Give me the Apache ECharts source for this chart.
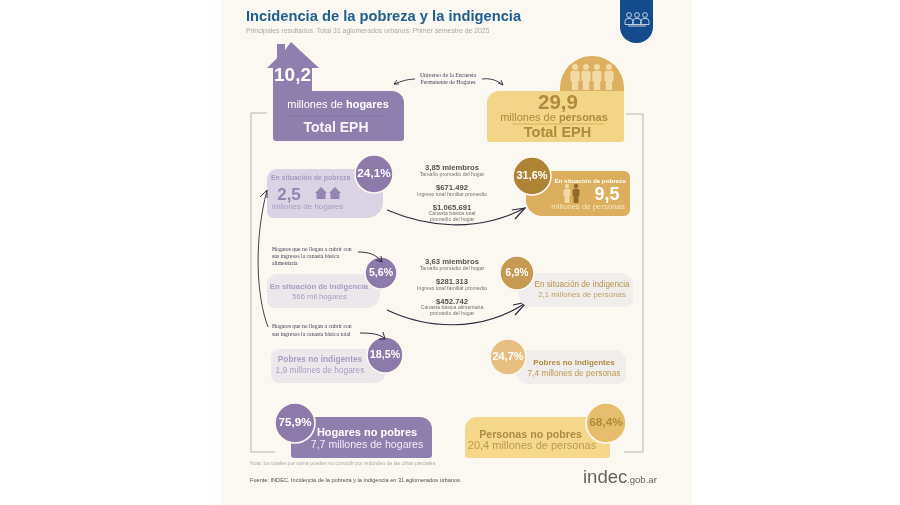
<!DOCTYPE html>
<html>
<head>
<meta charset="utf-8">
<style>html,body{margin:0;padding:0;background:#fff}#chart{width:900px;height:505px}</style>
<script src="https://cdn.jsdelivr.net/npm/echarts@6/dist/echarts.min.js"></script>
</head>
<body>
<div id="chart"></div>
<script>
const titulo = "Incidencia de la pobreza y la indigencia"
const subtitulo = "Principales resultados. Total 31 aglomerados urbanos. Primer semestre de 2025"
const totales = ["10,2", "29,9"]
const pctHogares = ["24,1%", "5,6%", "18,5%", "75,9%"]
const pctPersonas = ["31,6%", "6,9%", "24,7%", "68,4%"]
const absHogares = ["2,5", "566 mil hogares", "1,9 millones de hogares", "7,7 millones de hogares"]
const absPersonas = ["9,5", "2,1 millones de personas", "7,4 millones de personas", "20,4 millones de personas"]
const nombres = ["En situación de pobreza", "En situación de indigencia", "Pobres no indigentes"]
const pobrezaMedio = ["3,85 miembros", "Tamaño promedio del hogar", "$671.492", "Ingreso total familiar promedio", "$1.065.691", "Canasta básica total", "promedio del hogar"]
const indigenciaMedio = ["3,63 miembros", "Tamaño promedio del hogar", "$281.313", "Ingreso total familiar promedio", "$452.742", "Canasta básica alimentaria", "promedio del hogar"]
const universo = ["Universo de la Encuesta", "Permanente de Hogares"]
const notaIndigencia = ["Hogares que no llegan a cubrir con", "sus ingresos la canasta básica", "alimentaria"]
const notaPobres = ["Hogares que no llegan a cubrir con", "sus ingresos la canasta básica total"]
const nota = "Nota: los totales por suma pueden no coincidir por redondeo de las cifras parciales."
const fuente = "Fuente: INDEC. Incidencia de la pobreza y la indigencia en 31 aglomerados urbanos."

const SANS = '"Liberation Sans", Arial, sans-serif'
const SERIF = '"Liberation Serif", serif'
const VIOLETA = "#8f7fae"
const OCRE = "#b08a3e"
const g = []

function txt(text, x, y, size, color, opt) {
  opt = opt || {}
  const a = opt.align || "center"
  g.push({
    type: "text",
    style: {
      text, x, y, fill: color, opacity: opt.opacity == null ? 1 : opt.opacity,
      font: (opt.italic ? "italic " : "") + (opt.bold ? "bold " : "") + size + "px " + (opt.family || SANS),
      align: a, textAlign: a, verticalAlign: "middle", textVerticalAlign: "middle",
      rich: opt.rich
    }
  })
}
function box(x, y, width, height, r, fill) {
  g.push({ type: "rect", shape: { x, y, width, height, r }, style: { fill } })
}
function badge(text, cx, cy, r, fill, size, color) {
  g.push({ type: "circle", shape: { cx, cy, r }, style: { fill, stroke: "#fbf8f1", lineWidth: 1.6 } })
  txt(text, cx, cy, size, color || "#fff", { bold: true })
}
function line(points, color, width) {
  g.push({ type: "polyline", shape: { points }, style: { stroke: color, lineWidth: width, fill: null } })
}
function flecha(x1, y1, cpx1, cpy1, cpx2, cpy2, x2, y2, barbas, width) {
  g.push({
    type: "bezierCurve",
    shape: { x1, y1, cpx1, cpy1, cpx2, cpy2, x2, y2 },
    style: { stroke: "#33293f", lineWidth: width, fill: null }
  })
  line([barbas[0], [x2, y2], barbas[1]], "#33293f", width)
}
function casita(x, y, fill) {
  g.push({ type: "polygon", shape: { points: [[x - 6, y], [x, y - 6], [x + 6, y], [x + 4.5, y], [x + 4.5, y + 6], [x - 4.5, y + 6], [x - 4.5, y]] }, style: { fill } })
}
function persona(x, y, esc, fill) {
  g.push({ type: "circle", shape: { cx: x, cy: y, r: 2.6 * esc }, style: { fill } })
  g.push({ type: "rect", shape: { x: x - 4 * esc, y: y + 3.2 * esc, width: 8 * esc, height: 9 * esc, r: [2 * esc, 2 * esc, 0, 0] }, style: { fill } })
  g.push({ type: "rect", shape: { x: x - 2.8 * esc, y: y + 12 * esc, width: 5.6 * esc, height: 8 * esc }, style: { fill } })
}

// fondo y pestaña
g.push({ type: "rect", shape: { x: 221, y: 0, width: 471, height: 505 }, style: { fill: "#fbf8f1" } })
box(620, -10, 33, 53, [0, 0, 16, 16], "#134b8c")
;[629, 637, 645].forEach(function (x) {
  g.push({ type: "circle", shape: { cx: x, cy: 15, r: 2.4 }, style: { fill: null, stroke: "#e8eef6", lineWidth: 0.8 } })
  g.push({ type: "rect", shape: { x: x - 4, y: 18.5, width: 8, height: 6, r: [3, 3, 0, 0] }, style: { fill: null, stroke: "#e8eef6", lineWidth: 0.8 } })
})
line([[628, 26], [646, 26]], "#e8eef6", 0.8)

txt(titulo, 246, 17, 14.7, "#1f5c90", { bold: true, align: "left" })
txt(subtitulo, 246, 31, 6.85, "#a8a8a6", { align: "left" })

// corchetes
line([[267, 113], [251, 113], [251, 452], [275, 452]], "#b5b3ae", 1)
line([[626, 114], [643, 114], [643, 452], [624, 452]], "#b5b3ae", 1)

// total hogares
g.push({ type: "polygon", shape: { points: [[267, 68], [277, 58], [277, 44], [285, 44], [285, 50], [291, 42], [319, 68], [312, 68], [312, 92], [273, 92], [273, 68]] }, style: { fill: VIOLETA } })
box(273, 91, 131, 50, [0, 12, 3, 3], VIOLETA)
txt(totales[0], 292.5, 76, 19, "#fff", { bold: true })
txt("{a|millones de }{b|hogares}", 338, 105, 11, "#fff", { rich: { a: { fontSize: 11, fontFamily: "Liberation Sans", color: "#eee9f3" }, b: { fontSize: 11, fontWeight: "bold", fontFamily: "Liberation Sans", color: "#fff" } } })
line([[288, 116], [382, 116]], "#7f6f9e", 0.8)
txt("Total EPH", 336, 128, 14, "#f6f3f8", { bold: true })

// total personas
g.push({ type: "sector", shape: { cx: 592, cy: 88, r: 32, r0: 0, startAngle: Math.PI, endAngle: Math.PI * 2 }, style: { fill: "#dcb05f" } })
box(560, 87, 64, 6, 0, "#dcb05f")
;[575, 586, 597, 609].forEach(function (x) { persona(x, 67, 1.15, "#f3d9a4") })
box(487, 91, 137, 51, [12, 0, 3, 3], "#f3d587")
txt(totales[1], 558, 103, 20.5, OCRE, { bold: true })
txt("{a|millones de }{b|personas}", 554, 118, 11, OCRE, { rich: { a: { fontSize: 11, fontFamily: "Liberation Sans", color: "#bd9a4f" }, b: { fontSize: 11, fontWeight: "bold", fontFamily: "Liberation Sans", color: OCRE } } })
line([[512, 124], [604, 124]], "#cda95c", 0.8)
txt("Total EPH", 557.5, 133, 14.5, OCRE, { bold: true })

// universo
txt(universo[0], 448, 75, 5.8, "#4a3c55", { family: SERIF })
txt(universo[1], 448, 82, 5.8, "#4a3c55", { family: SERIF })
flecha(415, 79, 408, 79, 402, 81, 394, 84, [[397, 80], [399, 84]], 0.9)
flecha(482, 79, 490, 78, 497, 80, 503, 85, [[498, 83], [501, 80]], 0.9)

// pobreza hogares
box(267, 169, 116, 49, [10, 0, 16, 6], "#d9d3e3")
badge(pctHogares[0], 374, 174, 19, "#8b7aaa", 11.8)
txt(nombres[0], 271, 178, 6.9, "#a99cc1", { bold: true, align: "left" })
txt(absHogares[0], 289, 195, 17, "#9385af", { bold: true })
casita(321, 193, "#9385af")
casita(335, 193, "#9385af")
txt("millones de hogares", 307.5, 207, 8, "#a99cc1")

// datos del medio
function medio(d, y) {
  txt(d[0], 452, y, 7.7, "#55514f", { bold: true })
  txt(d[1], 452, y + 7, 5.2, "#77736f")
  txt(d[2], 452, y + 20, 7.7, "#55514f", { bold: true })
  txt(d[3], 452, y + 27, 5.2, "#77736f")
  txt(d[4], 452, y + 40, 7.7, "#55514f", { bold: true })
  txt(d[5], 452, y + 46, 5.2, "#77736f")
  txt(d[6], 452, y + 52, 5.2, "#77736f")
}
medio(pobrezaMedio, 168)
medio(indigenciaMedio, 262)

flecha(387, 210, 425, 226, 475, 234, 525, 208, [[512, 210], [515, 219]], 1.2)
flecha(387, 310, 425, 328, 480, 334, 527, 302, [[513, 305], [515, 315]], 1.2)

// pobreza personas
box(526, 171, 104, 45, [0, 6, 6, 16], "#dcaf5f")
badge(pctPersonas[0], 532, 176, 19, "#ae8434", 11)
txt(nombres[0], 590, 181, 6.2, "#fff", { bold: true })
persona(567, 186, 0.85, "#f3d9a4")
persona(576, 186, 0.85, "#8f6a2a")
txt(absPersonas[0], 607, 195, 18, "#fff", { bold: true })
txt("millones de personas", 588, 207, 7.8, "#f6e6c0")

// indigencia hogares
box(267, 274, 113, 34, [10, 0, 14, 8], "#ebe8ec")
badge(pctHogares[1], 381, 273, 16, "#8b7aaa", 10.6)
txt(nombres[1], 319, 287, 7.8, "#a99cc1", { bold: true })
txt(absHogares[1], 319.5, 297, 7.7, "#a99cc1")

box(271, 349, 116, 34, [8, 0, 14, 8], "#ebe8ec")
badge(pctHogares[2], 385, 355, 18, "#8b7aaa", 10.8)
txt(nombres[2], 320, 360, 8.3, "#a99cc1", { bold: true })
txt(absHogares[2], 320, 371, 8.4, "#a99cc1")

// notas
notaIndigencia.forEach(function (t, i) { txt(t, 272, 250 + i * 6.7, 5.7, "#4a3c55", { family: SERIF, align: "left" }) })
flecha(358, 252, 368, 252, 376, 254, 382, 262, [[376, 260], [381, 256]], 1)
notaPobres.forEach(function (t, i) { txt(t, 272, 327 + i * 8, 5.7, "#4a3c55", { family: SERIF, align: "left" }) })
flecha(360, 333, 372, 333, 380, 334, 385, 339, [[379, 339], [383, 332]], 1)
flecha(268, 327, 256, 295, 254, 240, 267, 190, [[260, 197], [267, 198]], 0.9)

// indigencia personas
box(518, 273, 115, 34, [0, 12, 8, 14], "#f0eded")
badge(pctPersonas[1], 517, 273, 17, "#c69a52", 10)
txt(nombres[1], 582, 285, 8.2, "#b6924b")
txt(absPersonas[1], 582, 295, 7.9, "#c0a265")

box(515, 350, 111, 34, [0, 12, 8, 14], "#f0eded")
badge(pctPersonas[2], 508, 357, 18, "#e8bf82", 11)
txt(nombres[2], 574, 363, 8, OCRE, { bold: true, family: SANS })
txt(absPersonas[2], 574, 374, 8.4, "#bd9a4f")

// no pobres
box(291, 417, 141, 41, [0, 12, 3, 3], VIOLETA)
badge(pctHogares[3], 295, 423, 20, "#8b7aaa", 11.6)
txt("Hogares no pobres", 367, 433, 11, "#fff", { bold: true })
txt(absHogares[3], 367, 445, 10.6, "#efebf4")

box(465, 417, 145, 41, [12, 0, 3, 3], "#f5d88c")
badge(pctPersonas[3], 606, 423, 20, "#e6bd6c", 11.8, OCRE)
txt("Personas no pobres", 530.5, 435, 10.7, OCRE, { bold: true })
txt(absPersonas[3], 532, 446, 11, "#bd9a4f")

// pie
txt(nota, 250, 464, 5.05, "#a8a8a6", { align: "left" })
txt(fuente, 250, 480, 5.6, "#55514f", { align: "left" })
txt("indec", 583, 478, 18.5, "#66635f", { align: "left" })
txt(".gob.ar", 627, 480, 9.6, "#66635f", { align: "left" })

const chart = echarts.init(document.getElementById("chart"), null, { renderer: "canvas" })
chart.setOption({
  animation: false,
  backgroundColor: "#ffffff",
  graphic: { elements: g }
})
</script>
</body>
</html>
